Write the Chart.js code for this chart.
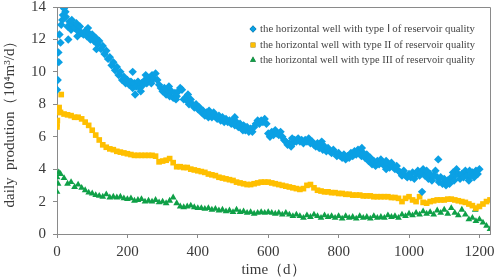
<!DOCTYPE html>
<html>
<head>
<meta charset="utf-8">
<script src="https://cdn.jsdelivr.net/npm/chart.js@4.4.0/dist/chart.umd.min.js"></script>
<style>
  html, body { margin: 0; padding: 0; background: #fff; }
</style>
</head>
<body>
<canvas id="productionChart" width="498" height="280"></canvas>
<script>
// sampling interval (days) of each series
var stepTypeI = 5;
var stepTypeII = 10;
var stepTypeIII = 10;

// type I well, one value every 5 days from day 0
var typeIValues = [
  8.9, 10.6, 11.8, 13.2, 13.9, 13.4, 12.8, 13.1, 12.6, 12.9,
  12.7, 13.0, 12.5, 12.8, 12.4, 12.3, 12.5, 12.2, 12.4, 12.0,
  12.3, 11.9, 12.1, 11.7, 11.9, 11.4, 11.6, 11.1, 11.3, 10.8,
  10.9, 10.4, 10.6, 10.1, 10.3, 9.8, 10.0, 9.5, 9.7, 9.3,
  9.5, 9.2, 9.4, 9.0, 9.3, 9.1, 9.4, 9.0, 9.3, 9.2,
  9.5, 9.3, 9.6, 9.4, 9.8, 9.6, 9.9, 9.5, 9.2, 9.0,
  8.8, 9.0, 8.6, 8.9, 8.5, 8.8, 8.4, 8.7, 8.5, 8.8,
  9.0, 8.9, 8.3, 8.4, 8.2, 8.0, 8.3, 8.0, 7.8, 8.0,
  7.7, 7.8, 7.5, 7.6, 7.3, 7.5, 7.2, 7.4, 7.2, 7.5,
  7.3, 7.1, 7.3, 7.0, 7.2, 6.9, 7.1, 6.9, 7.0, 6.8,
  7.0, 6.7, 6.9, 6.6, 6.8, 6.5, 6.7, 6.4, 6.6, 6.3,
  6.5, 6.3, 6.6, 6.8, 7.0, 6.8, 7.0, 6.9, 7.1, 6.8,
  6.2, 6.0, 6.3, 6.1, 6.4, 6.2, 6.1, 6.3, 6.0, 5.8,
  5.7, 5.5, 5.6, 5.4, 5.6, 5.8, 5.7, 5.9, 5.7, 5.8,
  5.6, 5.8, 5.7, 5.9, 5.6, 5.7, 5.5, 5.4, 5.6, 5.3,
  5.5, 5.2, 5.4, 5.1, 5.3, 5.1, 5.0, 5.2, 5.0, 4.8,
  5.0, 4.8, 4.7, 4.9, 4.6, 4.8, 4.7, 5.0, 4.8, 5.1,
  4.9, 5.2, 5.0, 4.8, 5.0, 4.7, 4.9, 4.5, 4.7, 4.3,
  4.5, 4.2, 4.5, 4.3, 4.6, 4.4, 4.2, 4.5, 4.3, 4.1,
  4.4, 4.2, 4.0, 4.2, 3.9, 3.8, 3.6, 3.9, 3.6, 3.5,
  3.7, 3.5, 3.8, 3.4, 3.7, 3.9, 3.6, 3.8, 4.0, 3.6,
  3.9, 3.4, 3.7, 3.3, 3.6, 3.9, 3.5, 3.2, 3.5, 3.1,
  3.4, 3.0, 3.3, 3.1, 3.5, 3.8, 3.6, 4.0, 3.7, 3.4,
  3.7, 3.5, 3.9, 3.6, 3.3, 3.6, 3.8, 3.5, 3.9, 3.7,
  4.0
];
// scattered type I points off the main band
var typeIExtraDays = [2, 4, 7, 12, 17, 24, 32, 42, 58, 88, 112, 215, 222, 238, 252, 268, 318, 338, 372, 432, 505, 528, 668, 752, 866, 935, 1037, 1083, 1128, 1172];
var typeIExtraValues = [9.5, 11.2, 12.3, 12.9, 13.5, 13.7, 12.0, 13.2, 12.2, 12.7, 11.4, 10.0, 8.6, 8.8, 9.8, 9.3, 9.1, 8.3, 8.6, 7.6, 7.2, 6.4, 5.9, 5.7, 5.3, 4.0, 2.6, 4.6, 3.3, 3.9];

// type II well, one value every 10 days from day 0
var typeIIValues = [
  6.8, 7.5, 7.4, 7.35, 7.3, 7.2, 7.2, 7.1, 6.9, 6.7,
  6.4, 6.1, 5.8, 5.5, 5.35, 5.25, 5.2, 5.1, 5.05, 5.0,
  4.95, 4.9, 4.85, 4.85, 4.85, 4.85, 4.85, 4.85, 4.8, 4.45,
  4.5, 4.55, 4.65, 4.4, 4.15, 4.15, 4.1, 4.1, 4.0, 3.95,
  3.9, 3.85, 3.8, 3.7, 3.65, 3.6, 3.5, 3.45, 3.4, 3.35,
  3.3, 3.2, 3.15, 3.1, 3.05, 3.05, 3.1, 3.15, 3.2, 3.2,
  3.2, 3.15, 3.1, 3.05, 3.0, 2.95, 2.9, 2.85, 2.8, 2.75,
  2.8, 3.0, 3.05, 2.85, 2.7, 2.65, 2.6, 2.6, 2.55, 2.55,
  2.5, 2.5, 2.45, 2.45, 2.4, 2.4, 2.4, 2.35, 2.35, 2.35,
  2.3, 2.3, 2.3, 2.3, 2.3, 2.25, 2.25, 2.2, 2.0, 2.2,
  2.3, 2.1, 2.0, 2.3, 1.95, 1.9, 2.0, 2.05, 2.1, 2.1,
  2.1, 2.15, 2.15, 2.1, 2.05, 2.0, 1.95, 1.85, 1.75, 1.6,
  1.7, 1.85, 2.0, 2.1
];
var typeIIExtraDays = [0, 1, 3, 6, 12];
var typeIIExtraValues = [6.6, 7.0, 7.5, 7.8, 8.6];

// type III well, one value every 10 days from day 0
var typeIIIValues = [
  3.5, 3.7, 3.45, 3.1, 3.2, 2.9, 3.05, 2.85, 2.7, 2.55,
  2.5, 2.4, 2.35, 2.3, 2.45, 2.25, 2.3, 2.25, 2.3, 2.2,
  2.15, 2.2, 2.05, 2.1, 2.15, 2.0, 2.05, 2.0, 2.1, 1.95,
  2.0, 1.9, 2.05, 2.25, 1.9, 1.7, 1.65, 1.7, 1.75, 1.65,
  1.6, 1.6, 1.55, 1.6, 1.5, 1.55, 1.45, 1.5, 1.4, 1.45,
  1.35, 1.5, 1.35, 1.4, 1.3, 1.35, 1.25, 1.3, 1.35, 1.3,
  1.35, 1.3, 1.25, 1.3, 1.2, 1.3, 1.2, 1.1, 1.2, 1.1,
  1.0, 1.15, 1.05, 1.2, 1.1, 1.0, 1.15, 1.05, 1.1, 1.0,
  1.1, 0.95, 1.1, 1.0, 1.05, 0.95, 1.1, 1.0, 1.05, 0.95,
  1.1, 1.0, 1.05, 1.0, 1.15, 1.05, 1.1, 1.0, 1.2, 1.1,
  1.25, 1.15, 1.3, 1.2, 1.4, 1.25, 1.35, 1.2, 1.45, 1.3,
  1.5, 1.25, 1.6, 1.3, 1.15, 1.5, 1.2, 0.9, 1.0, 0.8,
  0.9, 0.7, 0.5, 0.3
];
var typeIIIExtraDays = [0, 3, 5, 1188];
var typeIIIExtraValues = [2.6, 3.1, 3.8, 1.5];

var seriesLabels = [
  'the horizontal well with type \u2160 of reservoir quality',
  'the horizontal well with type II of reservoir quality',
  'the horizontal well with type III of reservoir quality'
];
var seriesColors = ['#0ba0e4', '#ffbf00', '#0fa047'];

var xTickValues = [0, 200, 400, 600, 800, 1000, 1200];
var yTickStep = 2;

function toPoints(values, step, extraDays, extraValues) {
  var pts = values.map(function (v, i) {
    return { x: i * step, y: v };
  });
  extraDays.forEach(function (d, i) {
    pts.push({ x: d, y: extraValues[i] });
  });
  return pts;
}

var axisFont = { family: "'Liberation Serif', 'Times New Roman', serif", size: 15 };
var textColor = '#3a3a3a';
var lineColor = '#8a8a8a';

// frame on top/right + legend drawn inside the plot
var framePlugin = {
  id: 'frameAndLegend',
  afterDraw: function (chart) {
    var c = chart.ctx;
    var a = chart.chartArea;
    c.save();
    c.strokeStyle = lineColor;
    c.lineWidth = 1;
    c.beginPath();
    c.moveTo(a.left, Math.round(a.top) + 0.5);
    c.lineTo(Math.round(a.right) + 0.5, Math.round(a.top) + 0.5);
    c.lineTo(Math.round(a.right) + 0.5, a.bottom);
    c.stroke();

    var styles = ['rectRot', 'rect', 'triangle'];
    var rows = [29, 45, 60];
    c.font = "11px 'Liberation Serif', 'Times New Roman', serif";
    c.textBaseline = 'middle';
    for (var i = 0; i < seriesLabels.length; i++) {
      Chart.helpers.drawPoint(c, {
        pointStyle: styles[i], radius: 3.4, borderWidth: 0, rotation: 0
      }, 253, rows[i]);
      c.fillStyle = seriesColors[i];
      c.fill();
      c.fillStyle = '#444';
      c.fillText(seriesLabels[i], 260, rows[i] + 0.5, 215);
    }
    c.restore();
  }
};

var ctx = document.getElementById('productionChart').getContext('2d');
var productionChart = new Chart(ctx, {
  type: 'scatter',
  data: {
    datasets: [{
      label: seriesLabels[0],
      data: toPoints(typeIValues, stepTypeI, typeIExtraDays, typeIExtraValues),
      backgroundColor: seriesColors[0],
      pointStyle: 'rectRot',
      pointRadius: 4.2,
      borderWidth: 0
    }, {
      label: seriesLabels[1],
      data: toPoints(typeIIValues, stepTypeII, typeIIExtraDays, typeIIExtraValues),
      backgroundColor: seriesColors[1],
      pointStyle: 'rect',
      pointRadius: 4,
      borderWidth: 0
    }, {
      label: seriesLabels[2],
      data: toPoints(typeIIIValues, stepTypeIII, typeIIIExtraDays, typeIIIExtraValues),
      backgroundColor: seriesColors[2],
      pointStyle: 'triangle',
      pointRadius: 3.9,
      borderWidth: 0
    }]
  },
  options: {
    responsive: false,
    animation: false,
    layout: { padding: { left: 0, right: 8, top: 7, bottom: 0 } },
    plugins: {
      legend: { display: false },
      tooltip: { enabled: false }
    },
    scales: {
      x: {
        type: 'linear',
        min: 0,
        max: 1230,
        afterBuildTicks: function (s) {
          s.ticks = xTickValues.map(function (v) { return { value: v }; });
        },
        ticks: {
          font: axisFont, color: textColor, padding: 5, maxRotation: 0, autoSkip: false,
          callback: function (v) { return String(v); }
        },
        grid: { drawOnChartArea: false, drawTicks: true, tickLength: 4, color: lineColor },
        border: { color: lineColor },
        title: { display: true, text: 'time（d）', font: axisFont, color: textColor, padding: { top: 0, bottom: 1 } },
        afterFit: function (s) { s.height = 46; s.paddingLeft = 0; s.paddingRight = 0; }
      },
      y: {
        min: 0,
        max: 14,
        ticks: { stepSize: yTickStep, font: axisFont, color: textColor, padding: 7 },
        grid: { drawOnChartArea: false, drawTicks: true, tickLength: 4, color: lineColor },
        border: { color: lineColor },
        title: { display: true, text: 'daily  prodution（10⁴m³/d）', font: axisFont, color: textColor, padding: { top: 1, bottom: 0 } },
        afterFit: function (s) { s.width = 57; s.paddingTop = 0; s.paddingBottom = 0; }
      }
    }
  },
  plugins: [framePlugin]
});
</script>
</body>
</html>
